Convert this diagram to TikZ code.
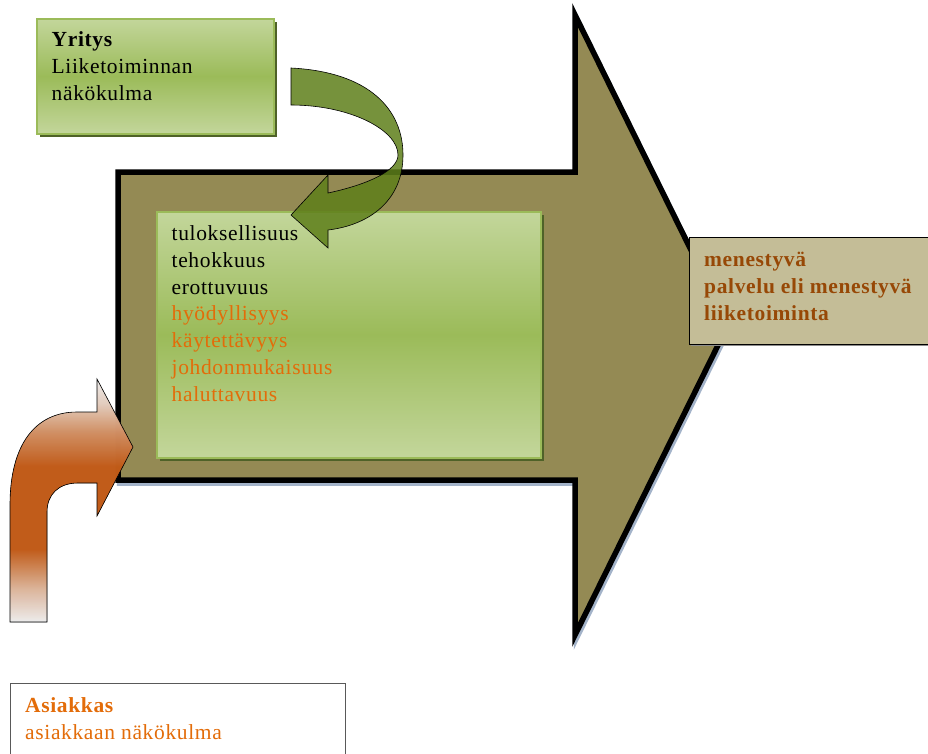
\documentclass[tikz,border=0pt]{standalone}
\usepackage{fontspec}
\setmainfont{Liberation Serif}[LetterSpace=3]
\usepackage{tikz}
\usetikzlibrary{positioning,shadows}

\definecolor{olivebody}{HTML}{948A54}
\definecolor{greenlight}{HTML}{C3D69B}
\definecolor{greenmid}{HTML}{9BBB59}
\definecolor{greendark}{HTML}{4F6228}
\definecolor{greenarrow}{HTML}{5E7F1A}
\definecolor{tanbox}{HTML}{C4BD97}
\definecolor{browntext}{HTML}{974806}
\definecolor{orangetext}{HTML}{E36C09}
\definecolor{orangearrow}{HTML}{D0621A}
\definecolor{shadowblue}{HTML}{A3B3C9}

% orange fade: white at both ends, dark band round the bend
\pgfdeclareverticalshading{orangefade}{100bp}{
  color(0bp)=(white); color(25bp)=(white);
  color(32bp)=(orangearrow!40!white); color(40bp)=(orangearrow);
  color(57bp)=(orangearrow); color(64bp)=(orangearrow!65!white);
  color(70bp)=(orangearrow!22!white);
  color(75bp)=(white); color(100bp)=(white)}

\begin{document}
\begin{tikzpicture}[
  x=1pt, y=-1pt,
  font=\fontsize{21.5}{26.7}\selectfont,
  gbox/.style={draw=greenmid, line width=1.5pt, top color=greenlight, bottom color=greenlight,
    middle color=greenmid, inner sep=0pt, anchor=north west,
    drop shadow={fill=greendark, opacity=1, shadow xshift=3pt, shadow yshift=-3pt}},
  tbox/.style={draw=black, line width=0.8pt, fill=tanbox, inner sep=0pt, anchor=north west,
    drop shadow={fill=black!45, opacity=1, shadow xshift=2pt, shadow yshift=-2pt}},
  wbox/.style={draw=black!65, line width=1pt, fill=white, inner sep=0pt, anchor=north west},
  txt/.style={anchor=base west, align=left, inner sep=0pt},
  big/.style={draw=black, line width=5.5pt, line join=miter, fill=olivebody},
  curl/.style={draw=black, line width=0.6pt, fill=greenarrow, fill opacity=0.85},
  bentarrow/.style={draw=black, line width=0.6pt, shading=orangefade, fill opacity=0.92},
]
\useasboundingbox (0,0) rectangle (928,753);

% ---------------- big arrow: shadow, then body ----
\filldraw[shadowblue, line width=5.5pt, line join=miter, shift={(1.5,3)}]
  (118,172) -- (575,172) -- (575,15) -- (728,325) -- (575,635) -- (575,480) -- (118,480) -- cycle;
\filldraw[big]
  (118,172) -- (575,172) -- (575,15) -- (728,325) -- (575,635) -- (575,480) -- (118,480) -- cycle;

% ---------------- boxes ----
\node[gbox, minimum width=237, minimum height=115] (yritys) at (36,18) {};
\node[gbox, minimum width=384, minimum height=246] (kriteerit) at (156,211) {};
\node[tbox, minimum width=245, minimum height=107] (tulos) at (689,237) {};
\node[wbox, minimum width=335, minimum height=80] (asiakas) at (10,683) {};

% ---------------- texts (base = last line) ----
\node[txt] (yritysteksti) at (51.5,100)
  {\textbf{Yritys}\\Liiketoiminnan\\näkökulma};
\node[txt] (kriteeriteksti) at (171.5,401)
  {tuloksellisuus\\tehokkuus\\erottuvuus\\
   \color{orangetext}hyödyllisyys\\\color{orangetext}käytettävyys\\
   \color{orangetext}johdonmukaisuus\\\color{orangetext}haluttavuus};
\node[txt, text=browntext, font=\fontsize{21.5}{26.7}\selectfont\bfseries] (tulosteksti) at (704,320)
  {menestyvä\\palvelu eli menestyvä\\liiketoiminta};
\node[txt, text=orangetext] (asiakasteksti) at (25,739)
  {\textbf{Asiakkas}\\asiakkaan näkökulma};

% ---------------- curved arrow from Yritys ----
\filldraw[curl] (291,68) .. controls (370,72) and (403,110) .. (403,155)
  .. controls (403,200) and (370,225) .. (328,230) -- (328,248) -- (291,215)
  -- (328,175) -- (328,193) .. controls (370,184) and (398,170) .. (398,155)
  .. controls (398,130) and (350,105) .. (291,105) -- cycle;

% ---------------- bent arrow from Asiakkas ----
\filldraw[bentarrow] (10,622) -- (10,505) .. controls (10,445) and (35,412) .. (77,412)
  -- (97,412) -- (97,379) -- (133,447) -- (97,516) -- (97,483) -- (78,483)
  .. controls (58,483) and (47,495) .. (47,512) -- (47,622) -- cycle;
\end{tikzpicture}
\end{document}
